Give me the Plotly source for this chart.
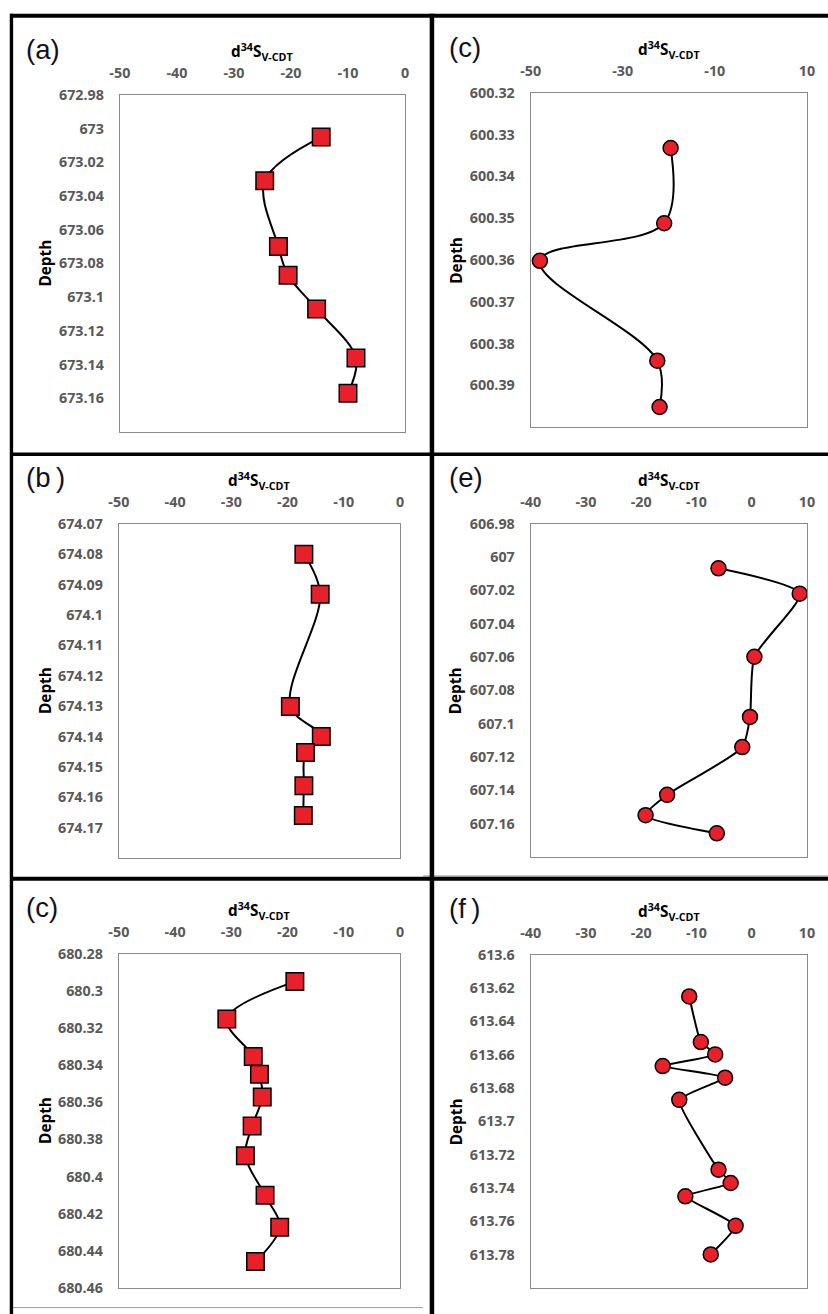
import plotly.graph_objects as go

W, H = 828, 1314
# Layout positions below are given in screen pixels of the final page; the
# page shows the figure inside an 8px body margin and is scaled to the window,
# so screen pixels are converted back to figure pixels by these factors.
OFF = 8
SX = (W + 2 * OFF) / W
SY = (H + 2 * OFF) / H

# ---- panel (a) ----
a_depth = [673.005, 673.031, 673.070, 673.087, 673.107, 673.136, 673.157]
a_d34s = [-14.7, -24.6, -22.2, -20.5, -15.5, -8.6, -10.0]
a_ytick = [672.98, 673.0, 673.02, 673.04, 673.06, 673.08, 673.1, 673.12, 673.14, 673.16]
a_ytext = ["672.98", "673", "673.02", "673.04", "673.06", "673.08", "673.1", "673.12", "673.14", "673.16"]

# ---- panel (c), upper right ----
c1_depth = [600.3332, 600.3512, 600.3602, 600.3841, 600.3952]
c1_d34s = [-19.6, -21.0, -48.0, -22.5, -22.0]
c1_ytick = [600.32, 600.33, 600.34, 600.35, 600.36, 600.37, 600.38, 600.39]
c1_ytext = ["600.32", "600.33", "600.34", "600.35", "600.36", "600.37", "600.38", "600.39"]

# ---- panel (b) ----
b_depth = [674.080, 674.0932, 674.1301, 674.140, 674.1453, 674.1562, 674.166]
b_d34s = [-17.1, -14.2, -19.5, -14.0, -16.8, -17.1, -17.2]
b_ytick = [674.07, 674.08, 674.09, 674.1, 674.11, 674.12, 674.13, 674.14, 674.15, 674.16, 674.17]
b_ytext = ["674.07", "674.08", "674.09", "674.1", "674.11", "674.12", "674.13",
           "674.14", "674.15", "674.16", "674.17"]

# ---- panel (e) ----
e_depth = [607.0067, 607.0219, 607.0598, 607.0959, 607.114, 607.1427, 607.1549, 607.1658]
e_d34s = [-6.0, 8.7, 0.5, -0.3, -1.7, -15.3, -19.2, -6.3]
e_ytick = [606.98, 607.0, 607.02, 607.04, 607.06, 607.08, 607.1, 607.12, 607.14, 607.16]
e_ytext = ["606.98", "607", "607.02", "607.04", "607.06", "607.08", "607.1", "607.12", "607.14", "607.16"]

# ---- panel (c), lower left ----
c2_depth = [680.295, 680.3151, 680.3354, 680.3449, 680.3572, 680.3728, 680.3888,
            680.4101, 680.4273, 680.4458]
c2_d34s = [-18.7, -30.8, -26.1, -25.0, -24.5, -26.3, -27.5, -24.0, -21.4, -25.7]
c2_ytick = [680.28, 680.3, 680.32, 680.34, 680.36, 680.38, 680.4, 680.42, 680.44, 680.46]
c2_ytext = ["680.28", "680.3", "680.32", "680.34", "680.36", "680.38", "680.4", "680.42",
            "680.44", "680.46"]

# ---- panel (f) ----
f_depth = [613.625, 613.6524, 613.6598, 613.6668, 613.6738, 613.6871, 613.729, 613.737,
           613.745, 613.7627, 613.7799]
f_d34s = [-11.3, -9.2, -6.6, -16.1, -4.8, -13.1, -6.0, -3.8, -12.0, -2.9, -7.4]
f_ytick = [613.6, 613.62, 613.64, 613.66, 613.68, 613.7, 613.72, 613.74, 613.76, 613.78]
f_ytext = ["613.6", "613.62", "613.64", "613.66", "613.68", "613.7", "613.72", "613.74",
           "613.76", "613.78"]

x_ticks_50 = [-50, -40, -30, -20, -10, 0]
x_ticks_c1 = [-50, -30, -10, 10]
x_ticks_40 = [-40, -30, -20, -10, 0, 10]


def px(x):
    return (x * SX - OFF) / W


def py(y):
    return 1 - (y * SY - OFF) / H


# (label, depth, value, y-range, y ticks, y text, x-range, x ticks, marker, smoothing, box px)
panels = [
    ("(a)", a_depth, a_d34s, [673.18, 672.98], a_ytick, a_ytext, [-50, 0], x_ticks_50,
     "square", 1.0, (118, 93, 404, 431)),
    ("(c)", c1_depth, c1_d34s, [600.40, 600.32], c1_ytick, c1_ytext, [-50, 10], x_ticks_c1,
     "circle", 1.0, (530, 91, 807, 426)),
    ("(b\u2009)", b_depth, b_d34s, [674.18, 674.07], b_ytick, b_ytext, [-50, 0], x_ticks_50,
     "square", 1.0, (117, 523, 399, 858)),
    ("(e)", e_depth, e_d34s, [607.18, 606.98], e_ytick, e_ytext, [-40, 10], x_ticks_40,
     "circle", 0.6, (530, 523, 807, 857)),
    ("(c)", c2_depth, c2_d34s, [680.46, 680.28], c2_ytick, c2_ytext, [-50, 0], x_ticks_50,
     "square", 1.0, (117, 954, 399, 1289)),
    ("(f\u2009)", f_depth, f_d34s, [613.80, 613.60], f_ytick, f_ytext, [-40, 10], x_ticks_40,
     "circle", 0.4, (530, 955, 807, 1289)),
]

fig = go.Figure()
tick_font = dict(family="Open Sans", size=14.3, color="#595959", weight="bold")
annotations = []
layout_axes = {}

for i, (lab, depth, val, yr, yt, ytx, xr, xt, sym, smooth, box) in enumerate(panels):
    n = "" if i == 0 else str(i + 1)
    x0, y0, x1, y1 = box
    msize = 17.5 if sym == "square" else 15
    fig.add_trace(go.Scatter(
        x=val, y=depth, xaxis="x" + n, yaxis="y" + n, mode="lines+markers",
        line=dict(color="black", width=2, shape="spline", smoothing=smooth),
        marker=dict(symbol=sym, size=msize, color="#e8202a",
                    line=dict(color="black", width=1.5)),
        showlegend=False, hoverinfo="skip"))
    layout_axes["xaxis" + n] = dict(
        domain=[px(x0), px(x1)], anchor="y" + n, side="top", range=xr,
        tickvals=xt, ticktext=[str(v) for v in xt], tickfont=tick_font,
        showgrid=False, zeroline=False, showline=True, mirror=True,
        linecolor="#8a8a8a", linewidth=1, ticks="", ticklabelstandoff=10,
        fixedrange=True)
    layout_axes["yaxis" + n] = dict(
        domain=[py(y1), py(y0)], anchor="x" + n, range=yr,
        tickvals=yt, ticktext=ytx, tickfont=tick_font,
        showgrid=False, zeroline=False, showline=True, mirror=True,
        linecolor="#8a8a8a", linewidth=1, ticks="", ticklabelstandoff=12,
        fixedrange=True)

    left = x0 < 300
    cx = (x0 + x1) / 2
    # panel letter
    annotations.append(dict(
        text=lab, x=px(22 if left else 446), y=py(y0 - 46), xref="paper", yref="paper",
        xanchor="left", yanchor="middle", showarrow=False,
        font=dict(family="Liberation Sans", size=27.5, color="#111122")))
    # axis title
    annotations.append(dict(
        text="d<sup>34</sup>S<sub>V-CDT</sub>", x=px(cx), y=py(y0 - 43),
        xref="paper", yref="paper", xanchor="center", yanchor="middle", showarrow=False,
        font=dict(family="Open Sans", size=15.3, color="black", weight="bold")))
    # depth label
    annotations.append(dict(
        text="Depth", x=px(43 if left else 455), y=py((y0 + y1) / 2),
        xref="paper", yref="paper", xanchor="center", yanchor="middle", showarrow=False,
        textangle=-90,
        font=dict(family="Open Sans", size=15.3, color="black", weight="bold")))

# frame lines separating the panels
shapes = []


def hline(y, xa, xb, w, c="black"):
    shapes.append(dict(type="line", xref="paper", yref="paper", x0=px(xa), x1=px(xb),
                       y0=py(y), y1=py(y), line=dict(color=c, width=w)))


def vline(x, ya, yb, w, c="black"):
    shapes.append(dict(type="line", xref="paper", yref="paper", x0=px(x), x1=px(x),
                       y0=py(ya), y1=py(yb), line=dict(color=c, width=w)))


hline(13.7, 8, 840, 4)
hline(453.3, 8, 840, 3.6)
hline(876, 422, 840, 1, "#9a9a9a")
hline(878.8, 8, 840, 4)
hline(1308.7, 11, 422, 1, "#9a9a9a")
vline(9.3, 11.7, 1330, 3.4)
vline(431, 11.7, 1330, 4.5)

fig.update_layout(
    width=W, height=H, margin=dict(l=0, r=0, t=0, b=0),
    paper_bgcolor="white", plot_bgcolor="white",
    annotations=annotations, shapes=shapes, **layout_axes)

fig.write_html("out.html")
